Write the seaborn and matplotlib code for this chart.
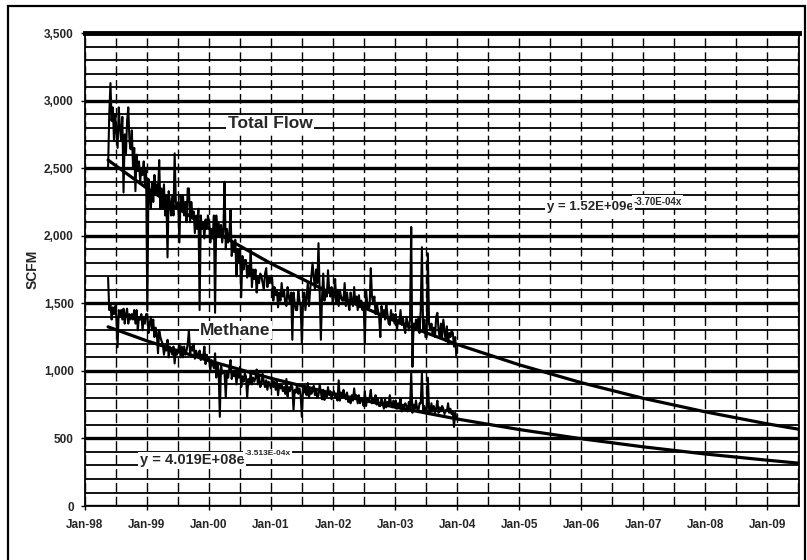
import pandas as pd
import matplotlib
matplotlib.use("Agg")
import matplotlib.pyplot as plt
import seaborn as sns
from matplotlib.patches import Rectangle

# weekly readings, first one mid May 1998
start_date = "1998-05-17"

total_flow = [
    # 1998
    2500, 2900, 3130, 2850, 2950, 2700, 2900, 2780, 2650, 2950, 2800,
    2700, 2880, 2320, 2750, 2600, 2850, 2950, 2700, 2640, 2780, 2500, 2650, 2330,
    2600, 2480, 2550, 2400, 2500, 2450, 2550, 2380, 2480,
    # 1999
    1450, 2420, 2300, 2200, 2400, 2250, 2450, 2300, 2380, 2300, 2560, 2200, 2350,
    2200, 2380, 2150, 2300, 1840, 2330, 2250, 2150, 2300, 2150, 2610, 2250, 2200,
    2250, 1950, 2300, 2200, 2300, 2150, 2250, 2100, 2350, 2350, 2100, 2250, 2150,
    2180, 2020, 2150, 2050, 2200, 1450, 2150, 2050, 2100, 1980, 2120, 2050, 2150,
    # 2000
    2100, 1950, 2050, 1980, 2150, 1430, 2150, 2000, 2100, 2000, 2080, 1950, 2050,
    2400, 1900, 2050, 1950, 2000, 2190, 1850, 1950, 1880, 1970, 1700, 1900, 1800,
    1900, 1545, 1850, 1750, 1820, 1820, 1690, 1780, 1700, 1900, 1620, 1750, 1680,
    1750, 1580, 1700, 1650, 1720, 1700, 1650, 1600, 1720, 1760, 1620, 1700, 1650, 1690,
    # 2001
    1690, 1520, 1620, 1560, 1600, 1470, 1580, 1520, 1650, 1550, 1600, 1500,
    1480, 1620, 1550, 1500, 1580, 1230, 1580, 1500, 1450, 1450, 1600, 1520, 1480,
    1205, 1520, 1580, 1450, 1550, 1650, 1480, 1600, 1700, 1800, 1700, 1600, 1750, 1650,
    1945, 1600, 1230, 1550, 1720, 1520, 1600, 1550, 1745, 1600, 1550, 1620, 1500,
    # 2002
    1550, 1680, 1500, 1600, 1480, 1600, 1550, 1520, 1520, 1650, 1480, 1580, 1500,
    1450, 1580, 1520, 1480, 1620, 1500, 1550, 1450, 1560, 1470, 1520, 1450, 1500,
    1205, 1600, 1500, 1450, 1480, 1760, 1550, 1500, 1550, 1420, 1500, 1450, 1400,
    1250, 1480, 1400, 1450, 1380, 1500, 1420, 1350, 1340, 1450, 1380, 1420, 1350,
    # 2003
    1420, 1300, 1380, 1350, 1450, 1340, 1400, 1320, 1280, 1400, 1350, 1300, 1380,
    2065, 1030, 1350, 1300, 1380, 1300, 1400, 1280, 1450, 1915, 1300, 1380, 1250,
    1250, 1870, 1350, 1300, 1350, 1280, 1320, 1250, 1400, 1430, 1300, 1250, 1350,
    1250, 1380, 1300, 1220, 1330, 1200, 1280, 1250, 1300, 1280, 1180, 1250, 1100,
]

methane = [
    # 1998
    1690, 1450, 1500, 1380, 1470, 1420, 1480, 1400, 1175, 1450, 1400,
    1450, 1380, 1460, 1350, 1420, 1460, 1350, 1420, 1380, 1420, 1380, 1450, 1350,
    1450, 1300, 1400, 1380, 1420, 1300, 1400, 1350, 1420,
    # 1999
    1420, 1280, 1350, 1400, 1300, 1380, 1250, 1320, 1280, 1130, 1300, 1250, 1220,
    1200, 1120, 1180, 1150, 1230, 1100, 1180, 1150, 1120, 1180, 1055, 1150, 1120,
    1150, 1200, 1100, 1180, 1100, 1180, 1120, 1150, 1200, 1300, 1120, 1180, 1150,
    1200, 1090, 1150, 1120, 1100, 1150, 1080, 1120, 1100, 1180, 1050, 1120, 1080,
    # 2000
    1100, 1000, 1080, 1050, 1020, 1130, 950, 1050, 1000, 660, 1050, 980, 1000,
    980, 805, 1000, 950, 1020, 1080, 940, 1000, 960, 1000, 900, 980, 950,
    1030, 880, 960, 920, 980, 960, 800, 940, 900, 1000, 900, 950, 920,
    950, 1010, 900, 960, 880, 900, 980, 920, 880, 930, 860, 920, 900, 870,
    # 2001
    950, 880, 920, 860, 920, 820, 900, 870, 900, 850, 880, 830,
    940, 810, 880, 850, 900, 880, 710, 860, 840, 900, 830, 870, 820,
    660, 870, 840, 880, 820, 910, 800, 860, 830, 850, 890, 820, 860, 800,
    820, 900, 840, 790, 860, 785, 840, 810, 880, 820, 850, 790, 830,
    # 2002
    850, 800, 830, 780, 930, 780, 840, 800, 860, 820, 790, 840, 770,
    800, 760, 820, 780, 870, 790, 820, 760, 820, 760, 800, 780, 740,
    850, 740, 800, 770, 800, 860, 760, 790, 770, 820, 750, 790, 740,
    740, 800, 760, 720, 790, 730, 770, 750, 820, 760, 730, 780, 740,
    # 2003
    780, 720, 760, 740, 800, 700, 750, 730, 760, 740, 700, 770, 720,
    985, 690, 750, 720, 780, 720, 700, 760, 760, 985, 710, 740, 700,
    700, 950, 720, 680, 760, 700, 740, 690, 720, 780, 690, 730, 700,
    740, 720, 680, 710, 700, 760, 690, 720, 680, 700, 585, 690, 650,
]

# exponential trend lines, read at each January
trend_dates = ["1998-05-17", "1999-01-01", "2000-01-01", "2001-01-01", "2002-01-01",
               "2003-01-01", "2004-01-01", "2005-01-01", "2006-01-01", "2007-01-01",
               "2008-01-01", "2009-01-01", "2009-07-06"]
total_flow_trend = [2560, 2351, 2054, 1794, 1567, 1369, 1196, 1045, 913, 797, 697, 608, 568]
methane_trend = [1326, 1222, 1075, 945, 832, 732, 644, 566, 498, 438, 385, 339, 317]

y_ticks = [0, 500, 1000, 1500, 2000, 2500, 3000, 3500]
y_tick_labels = ["0", "500", "1,000", "1,500", "2,000", "2,500", "3,000", "3,500"]
x_tick_labels = ["Jan-98", "Jan-99", "Jan-00", "Jan-01", "Jan-02", "Jan-03",
                 "Jan-04", "Jan-05", "Jan-06", "Jan-07", "Jan-08", "Jan-09"]

sns.set_theme(style="white")
plt.rcParams["font.family"] = ["Liberation Sans", "DejaVu Sans"]

dates = pd.date_range(start_date, periods=len(total_flow), freq="7D")
tdates = pd.to_datetime(trend_dates)

fig = plt.figure(figsize=(8.07, 5.6), dpi=100)
ax = fig.add_axes([0.1053, 0.0964, 0.8847, 0.8446])

sns.lineplot(x=dates, y=total_flow, color="black", lw=1.5, ax=ax)
sns.lineplot(x=dates, y=methane, color="black", lw=1.5, ax=ax)
sns.lineplot(x=tdates, y=total_flow_trend, color="black", lw=2.3, ax=ax)
sns.lineplot(x=tdates, y=methane_trend, color="black", lw=2.3, ax=ax)

ax.set_xlim(pd.Timestamp("1998-01-01"), pd.Timestamp("2009-07-06"))
ax.set_ylim(0, 3500)

ax.set_yticks(y_ticks)
ax.set_yticklabels(y_tick_labels)
ax.set_yticks(range(0, 3501, 100), minor=True)
ax.set_xticks(pd.date_range("1998-01-01", periods=len(x_tick_labels), freq="YS"))
ax.set_xticklabels(x_tick_labels)
ax.set_xticks(pd.date_range("1998-07-01", periods=12, freq="12MS"), minor=True)

ax.grid(True, axis="y", which="major", color="black", lw=2.4)
ax.grid(True, axis="y", which="minor", color="black", lw=1.3)
ax.grid(True, axis="x", which="both", color="black", lw=1.0, linestyle=(0, (7, 3)))
ax.set_axisbelow(True)

for side in ["left", "bottom", "right"]:
    ax.spines[side].set_color("black")
    ax.spines[side].set_linewidth(1.3)
ax.spines["top"].set_color("black")
ax.spines["top"].set_linewidth(3.5)

ax.tick_params(axis="both", which="major", direction="out", length=3, width=1,
               color="black", labelsize=8.5)
ax.tick_params(axis="y", which="major", left=True, pad=5)
ax.tick_params(axis="x", which="major", bottom=True, pad=6)
ax.tick_params(which="minor", length=0)
for lab in ax.get_xticklabels() + ax.get_yticklabels():
    lab.set_fontweight("bold")

ax.set_xlabel("")
ax.set_ylabel("SCFM", fontsize=10, fontweight="bold", labelpad=3)

box = dict(facecolor="white", edgecolor="none", pad=1)
ax.text(0.200, 0.808, "Total Flow", transform=ax.transAxes, fontsize=12.5,
        fontweight="bold", va="center", ha="left", bbox=box)
ax.text(0.161, 0.372, "Methane", transform=ax.transAxes, fontsize=12.5,
        fontweight="bold", va="center", ha="left", bbox=box)

eq1 = ax.text(0.647, 0.632, "y = 1.52E+09e", transform=ax.transAxes,
              fontsize=9.5, fontweight="bold", va="center", ha="left", bbox=box)
ax.annotate("-3.70E-04x", xy=(1.0, 0.95), xycoords=eq1, fontsize=7,
            fontweight="bold", va="center", ha="left", bbox=box)
eq2 = ax.text(0.077, 0.097, "y = 4.019E+08e", transform=ax.transAxes,
              fontsize=10.5, fontweight="bold", va="center", ha="left", bbox=box)
ax.annotate("-3.513E-04x", xy=(1.0, 0.95), xycoords=eq2, fontsize=6,
            fontweight="bold", va="center", ha="left", bbox=box)

fig.patches.append(Rectangle((0.0099, -0.02), 0.9876, 1.0093, transform=fig.transFigure,
                             fill=False, edgecolor="black", lw=1.6))

fig.savefig("out.png", dpi=100)
